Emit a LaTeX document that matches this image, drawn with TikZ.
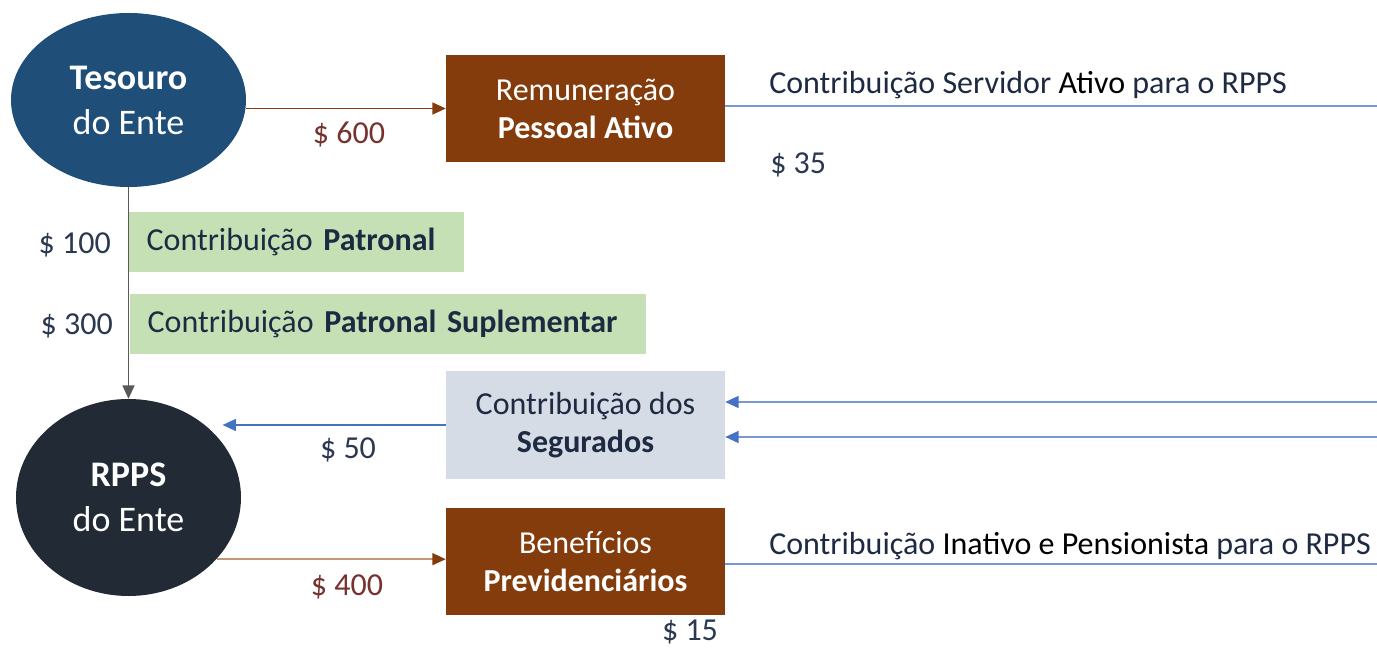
\documentclass[tikz,border=0pt]{standalone}
\usepackage{fontspec}
\setmainfont{Carlito}
\usepackage{tikz}
\usetikzlibrary{shapes, arrows.meta, positioning, calc}
\definecolor{tesblue}{RGB}{31, 78, 121}
\definecolor{rppsdark}{RGB}{34, 42, 53}
\definecolor{boxbrown}{RGB}{132, 60, 12}
\definecolor{lightbrown}{RGB}{196, 152, 118}
\definecolor{patgreen}{RGB}{197, 224, 180}
\definecolor{seggray}{RGB}{214, 220, 229}
\definecolor{navytxt}{RGB}{30, 42, 66}
\definecolor{valtxt}{RGB}{42, 56, 80}
\definecolor{valbrown}{RGB}{118, 50, 46}
\definecolor{arrowblue}{RGB}{68, 114, 196}
\definecolor{lineblue}{RGB}{120, 152, 212}
\definecolor{flowgray}{RGB}{89, 89, 89}

\begin{document}
\begin{tikzpicture}[x=0.75pt, y=-0.75pt,
  ente/.style={ellipse, inner sep=0pt, text=white, align=center, font=\fontsize{27}{33.75}\selectfont},
  flowbox/.style={rectangle, inner sep=0pt, minimum width=209.25pt, align=center, font=\fontsize{24}{28.5}\selectfont},
  patbox/.style={fill=patgreen, anchor=west, minimum height=45pt, inner xsep=13pt, align=left, text=navytxt, font=\fontsize{24}{28.5}\selectfont},
  val/.style={anchor=base, inner sep=0pt, font=\fontsize{24}{28.5}\selectfont},
  flow/.style={line width=1.1pt, -{Triangle[length=10pt, width=9pt]}}
]
  \useasboundingbox (0,0) rectangle (1377,649);

  % entes
  \node[ente, fill=tesblue, minimum width=176.25pt, minimum height=130.5pt] (tesouro) at (128.5,100) {\textbf{Tesouro}\\do Ente};
  \node[ente, fill=rppsdark, minimum width=168.75pt, minimum height=147.75pt] (rpps) at (128.5,497.5) {\textbf{RPPS}\\do Ente};

  % caixas
  \node[flowbox, fill=boxbrown, text=white, minimum height=80.25pt] (remun) at (585.5,108.5) {Remuneração\\\textbf{Pessoal Ativo}};
  \node[flowbox, fill=seggray, text=navytxt, minimum height=81pt] (segur) at (585.5,425) {Contribuição dos\\\textbf{Segurados}};
  \node[flowbox, fill=boxbrown, text=white, minimum height=80.25pt] (benef) at (585.5,561.5) {Benefícios\\\textbf{Previdenciários}};

  \node[patbox, text width=225.25pt] (patronal) at (129,242) {Contribuição \textbf{Patronal}};
  \node[patbox, text width=361pt] (suplem) at (130,324) {Contribuição \textbf{Patronal Suplementar}};

  % pontas livres
  \coordinate (ativoend) at (1377,106);
  \coordinate (inativoend) at (1377,564);
  \coordinate (segsrc1) at (1377,402);
  \coordinate (segsrc2) at (1377,437);

  % fluxos
  \draw[flow, boxbrown] (tesouro.east |- remun.west) -- (remun.west);
  \draw[flow, flowgray] (tesouro.south) -- (rpps.north);
  \draw[flow, arrowblue, shorten >=-14pt] (segur.west) -- (segur.west -| rpps.east);
  \draw[flow, lightbrown, -{Triangle[length=10pt, width=9pt, color=boxbrown]}] (rpps.-35) -- (rpps.-35 -| benef.west);
  \draw[flow, lineblue, -{Triangle[length=10pt, width=9pt, color=arrowblue]}] (segsrc1) -- (segsrc1 -| segur.east);
  \draw[flow, lineblue, -{Triangle[length=10pt, width=9pt, color=arrowblue]}] (segsrc2) -- (segsrc2 -| segur.east);
  \draw[lineblue, line width=1.1pt] (remun.east |- ativoend) -- (ativoend);
  \draw[lineblue, line width=1.1pt] (benef.east |- inativoend) -- (inativoend);

  % valores e textos
  \node[val, text=valbrown] (v600) at (349,144) {\$ 600};
  \node[val, text=valbrown] (v400) at (347,595) {\$ 400};
  \node[val, text=valtxt] (v50) at (348,458) {\$ 50};
  \node[val, text=valtxt, anchor=base east] (v100) at (111,253) {\$ 100};
  \node[val, text=valtxt, anchor=base east] (v300) at (113,334) {\$ 300};
  \node[val, text=valtxt, anchor=base west] (v35) at (770,174) {\$ 35};
  \node[val, text=valtxt] (v15) at (690,640) {\$ 15};
  \node[val, text=navytxt, anchor=base west] (txtativo) at (769,94) {Contribuição Servidor \textcolor{black}{Ativo} para o RPPS};
  \node[val, text=navytxt, anchor=base west] (txtinativo) at (769,554) {Contribuição \textcolor{black}{Inativo e Pensionista} para o RPPS};
\end{tikzpicture}
\end{document}
